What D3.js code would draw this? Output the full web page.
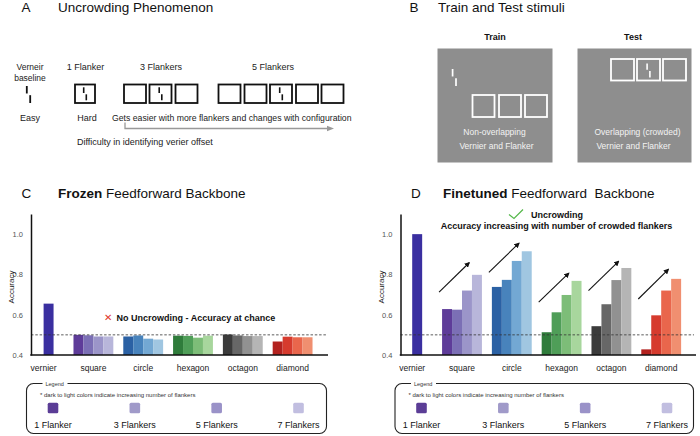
<!DOCTYPE html>
<html>
<head>
<meta charset="utf-8">
<script src="https://cdn.jsdelivr.net/npm/d3@7"></script>
<style>
  html, body { margin: 0; padding: 0; background: #fff; }
  svg { display: block; font-family: "Liberation Sans", Arial, Helvetica, sans-serif; }
</style>
</head>
<body>
<svg id="fig" width="700" height="436"></svg>
<script>
// ---------------- DATA ----------------
const categories = ["vernier", "square", "circle", "hexagon", "octagon", "diamond"];
const shapes = ["square", "circle", "hexagon", "octagon", "diamond"];
const flankerLabels = ["1 Flanker", "3 Flankers", "5 Flankers", "7 Flankers"];
const yTicks = [0.4, 0.6, 0.8, 1.0];
const chanceLevel = 0.5;

const frozenVernier = [0.655];
const frozenAcc = [
  [0.500, 0.498, 0.492, 0.492],   // square
  [0.492, 0.497, 0.481, 0.477],   // circle
  [0.496, 0.495, 0.486, 0.496],   // hexagon
  [0.502, 0.497, 0.494, 0.494],   // octagon
  [0.467, 0.491, 0.488, 0.488]    // diamond
];

const finetunedVernier = [1.0];
const finetunedAcc = [
  [0.628, 0.625, 0.720, 0.798],   // square
  [0.738, 0.773, 0.867, 0.915],   // circle
  [0.513, 0.612, 0.698, 0.768],   // hexagon
  [0.543, 0.652, 0.772, 0.832],   // octagon
  [0.428, 0.597, 0.720, 0.778]    // diamond
];

// arrows above each shape group in panel D (start / end accuracy)
const arrowStart = [0.712, 0.810, 0.663, 0.720, 0.678];
const arrowEnd   = [0.858, 0.955, 0.806, 0.865, 0.825];

const vernierColor = "#3a2fa0";
const shapeColors = [
  ["#5e3c99", "#7b6fb5", "#9b95c9", "#b8b6da"],
  ["#2b61a4", "#4883bc", "#73a8d3", "#a0c6e1"],
  ["#2f7c3b", "#4f9e58", "#7dbd78", "#a8d69d"],
  ["#3b3b3b", "#676767", "#919191", "#b5b5b5"],
  ["#b3221f", "#d63b2e", "#e9664c", "#f08f70"]
];
const legendColors = ["#5b3d96", "#a09ac9", "#9a92c8", "#c1bee0"];

// ---------------- SETUP ----------------
const svg = d3.select("#fig");
const FONT = '"Liberation Sans", Arial, Helvetica, sans-serif';

function text(g, x, y, str, opts = {}) {
  return g.append("text")
    .attr("x", x).attr("y", y)
    .attr("font-size", opts.size || 9)
    .attr("font-weight", opts.weight || "normal")
    .attr("fill", opts.fill || "#111")
    .attr("text-anchor", opts.anchor || "start")
    .text(str);
}

// ---------------- PANEL TITLES ----------------
text(svg, 21.5, 12, "A", { size: 13.5 });
text(svg, 58, 12, "Uncrowding Phenomenon", { size: 13.5 });
text(svg, 409.5, 12, "B", { size: 13.5 });
text(svg, 438, 12, "Train and Test stimuli", { size: 13.5 });
text(svg, 21.5, 198, "C", { size: 13.5 });
const tC = text(svg, 58, 198, "", { size: 13.5 });
tC.append("tspan").attr("font-weight", "bold").text("Frozen");
tC.append("tspan").text(" Feedforward Backbone");
text(svg, 411, 198, "D", { size: 13.5 });
const tD = text(svg, 443, 198, "", { size: 13.5 });
tD.append("tspan").attr("font-weight", "bold").text("Finetuned");
tD.append("tspan").attr("xml:space", "preserve").text(" Feedforward  Backbone");

// ---------------- PANEL A ----------------
function vernier(g, cx, cy, h, color, w) {
  const off = h * 0.1;
  g.append("line").attr("x1", cx - off).attr("x2", cx - off)
    .attr("y1", cy - h / 2).attr("y2", cy - h * 0.06)
    .attr("stroke", color).attr("stroke-width", w);
  g.append("line").attr("x1", cx + off).attr("x2", cx + off)
    .attr("y1", cy + h * 0.04).attr("y2", cy + h / 2)
    .attr("stroke", color).attr("stroke-width", w);
}
function box(g, x, y, w, h, color, sw) {
  g.append("rect").attr("x", x).attr("y", y).attr("width", w).attr("height", h)
    .attr("fill", "none").attr("stroke", color).attr("stroke-width", sw);
}
const gA = svg.append("g");
text(gA, 30, 70, "Verneir", { size: 8.5, anchor: "middle", fill: "#222" });
text(gA, 30, 80.5, "baseline", { size: 8.5, anchor: "middle", fill: "#222" });
vernier(gA, 28.5, 94.5, 17, "#111", 1.8);
text(gA, 30, 121, "Easy", { size: 9, anchor: "middle", fill: "#222" });

text(gA, 85.5, 70, "1 Flanker", { size: 9, anchor: "middle", fill: "#222" });
box(gA, 75, 84.5, 20, 18.5, "#111", 1.8);
vernier(gA, 85, 93.8, 13, "#111", 1.6);
text(gA, 87, 121, "Hard", { size: 9, anchor: "middle", fill: "#222" });

text(gA, 161, 70, "3 Flankers", { size: 9, anchor: "middle", fill: "#222" });
[124, 149.5, 175.5].forEach((x, i) => {
  box(gA, x, 84.5, 22, 18.5, "#111", 1.8);
  if (i === 1) vernier(gA, x + 11, 93.8, 13, "#111", 1.6);
});
text(gA, 273, 70, "5 Flankers", { size: 9, anchor: "middle", fill: "#222" });
[218.5, 244.5, 270, 296, 321.5].forEach((x, i) => {
  box(gA, x, 84.5, 22, 18.5, "#111", 1.8);
  if (i === 2) vernier(gA, x + 11, 93.8, 13, "#111", 1.6);
});
text(gA, 112, 121, "Gets easier with more flankers and changes with configuration", { size: 8.7, fill: "#222" });
gA.append("path").attr("d", "M125,122.5 V128.5 H330").attr("fill", "none")
  .attr("stroke", "#999").attr("stroke-width", 1.3);
gA.append("path").attr("d", "M334,128.5 L327,125.8 L327,131.2 Z").attr("fill", "#999");
text(gA, 77, 144.5, "Difficulty in identifying verier offset", { size: 9, fill: "#222" });

// ---------------- PANEL B ----------------
const gB = svg.append("g");
const boxGray = "#8e8e8e";
text(gB, 495, 40, "Train", { size: 9, weight: "bold", anchor: "middle" });
text(gB, 633, 40, "Test", { size: 9, weight: "bold", anchor: "middle" });
gB.append("rect").attr("x", 437.5).attr("y", 48.5).attr("width", 115).attr("height", 114).attr("fill", boxGray);
gB.append("rect").attr("x", 577.5).attr("y", 48.5).attr("width", 114).attr("height", 114).attr("fill", boxGray);
vernier(gB, 454.3, 77.5, 17, "#fff", 1.7);
[472.5, 499, 525].forEach(x => box(gB, x, 95, 22, 22, "#fff", 1.8));
text(gB, 494.5, 134.5, "Non-overlapping", { size: 8.5, anchor: "middle", fill: "#f3f3f3" });
text(gB, 496.5, 149, "Vernier and Flanker", { size: 8.5, anchor: "middle", fill: "#f3f3f3" });
[611, 637, 663].forEach((x, i) => {
  box(gB, x, 59, 23, 21.5, "#fff", 1.8);
  if (i === 1) vernier(gB, x + 11.5, 70.5, 14, "#fff", 1.6);
});
text(gB, 637.5, 134.5, "Overlapping (crowded)", { size: 8.5, anchor: "middle", fill: "#f3f3f3" });
text(gB, 633.5, 149, "Vernier and Flanker", { size: 8.5, anchor: "middle", fill: "#f3f3f3" });

// ---------------- BAR PANELS ----------------
svg.append("defs").append("marker")
  .attr("id", "arrowhead").attr("viewBox", "0 0 10 10")
  .attr("refX", 8).attr("refY", 5).attr("markerWidth", 5).attr("markerHeight", 5)
  .attr("orient", "auto")
  .append("path").attr("d", "M0,0 L10,5 L0,10 Z").attr("fill", "#111");

function barPanel(cfg) {
  const g = svg.append("g");
  const x = d3.scaleBand().domain(categories)
    .range([cfg.bandStart, cfg.bandEnd]).paddingInner(0.2).paddingOuter(0.1);
  const sub = d3.scaleBand().domain(d3.range(4)).range([0, x.bandwidth()]);
  const y = d3.scaleLinear().domain([0.4, 1.1]).range([355, 214]);

  // bars: vernier
  g.selectAll(".vbar").data(cfg.vernier).join("rect")
    .attr("x", x("vernier") + sub(2)).attr("width", sub.bandwidth())
    .attr("y", d => y(d)).attr("height", d => y(0.4) - y(d))
    .attr("fill", vernierColor);
  // bars: shapes
  shapes.forEach((s, si) => {
    g.selectAll(".b" + s).data(cfg.acc[si]).join("rect")
      .attr("x", (d, j) => x(s) + sub(j)).attr("width", sub.bandwidth())
      .attr("y", d => y(d)).attr("height", d => y(0.4) - y(d))
      .attr("fill", (d, j) => shapeColors[si][j]);
  });

  // chance line
  g.append("line").attr("x1", cfg.axisX).attr("x2", cfg.dashEnd)
    .attr("y1", y(chanceLevel)).attr("y2", y(chanceLevel))
    .attr("stroke", "#333").attr("stroke-width", 0.8).attr("stroke-dasharray", "2.5,1.8");

  // y axis
  const ya = g.append("g").attr("transform", `translate(${cfg.axisX},0)`)
    .call(d3.axisLeft(y).tickValues(yTicks).tickFormat(d3.format(".1f")).tickSize(0).tickPadding(8));
  ya.select(".domain").attr("stroke", "#111").attr("stroke-width", 1.5);
  ya.selectAll("text").attr("font-family", FONT).attr("font-size", 7.5).attr("fill", "#555");
  g.append("text").attr("transform", `translate(${cfg.axisX - 17},287) rotate(-90)`)
    .attr("text-anchor", "middle").attr("font-size", 8).attr("fill", "#222").text("Accuracy");

  // x axis
  g.append("line").attr("x1", cfg.axisX - 0.75).attr("x2", cfg.axisEnd)
    .attr("y1", y(0.4)).attr("y2", y(0.4)).attr("stroke", "#111").attr("stroke-width", 1.5);
  const xa = g.append("g").attr("transform", `translate(0,${y(0.4)})`)
    .call(d3.axisBottom(x).tickSize(0).tickPadding(10));
  xa.select(".domain").remove();
  xa.selectAll("text").attr("font-family", FONT).attr("font-size", 8.5).attr("fill", "#222");

  // legend
  const lg = g.append("g");
  lg.append("rect").attr("x", cfg.legX).attr("y", 383.5).attr("width", cfg.legW).attr("height", 50)
    .attr("rx", 7).attr("fill", "none").attr("stroke", "#222").attr("stroke-width", 1.1);
  lg.append("rect").attr("x", cfg.legX + 16).attr("y", 380).attr("width", 25).attr("height", 7).attr("fill", "#fff");
  lg.append("text").attr("x", cfg.legX + 19).attr("y", 385.5).attr("font-size", 5.5).attr("fill", "#333").text("Legend");
  lg.append("text").attr("x", cfg.legX + 13.5).attr("y", 396.8).attr("font-size", 6).attr("fill", "#333")
    .text("* dark to light colors indicate increasing number of flankers");
  const lx = d3.scalePoint().domain(flankerLabels).range([cfg.legX + 26.5, cfg.legX + 272]);
  lg.selectAll(".sw").data(flankerLabels).join("rect")
    .attr("x", d => lx(d) - 5.3).attr("y", 402.7).attr("width", 10.6).attr("height", 10.6)
    .attr("rx", 1.5).attr("fill", (d, i) => legendColors[i]);
  lg.selectAll(".lt").data(flankerLabels).join("text")
    .attr("x", d => lx(d)).attr("y", 427.5).attr("text-anchor", "middle")
    .attr("font-size", 9).attr("fill", "#111").text(d => d);
  return { g, x, y, sub };
}

// Panel C
const pc = barPanel({ vernier: frozenVernier, acc: frozenAcc, bandStart: 18.7, bandEnd: 317.5,
  axisX: 31, axisEnd: 328, dashEnd: 326, legX: 26.5, legW: 300 });
pc.g.append("text").attr("x", 104).attr("y", 320.5).attr("font-size", 10).attr("fill", "#e0392b").text("✕");
pc.g.append("text").attr("x", 116.5).attr("y", 320.5).attr("font-size", 9).attr("font-weight", "bold")
  .attr("fill", "#111").text("No Uncrowding - Accuracy at chance");

// Panel D
const pd = barPanel({ vernier: finetunedVernier, acc: finetunedAcc, bandStart: 387.3, bandEnd: 686.1,
  axisX: 400.5, axisEnd: 696, dashEnd: 694, legX: 395, legW: 298.5 });
pd.g.append("path").attr("d", "M509,214.5 L514,218.5 L523,209.5").attr("fill", "none")
  .attr("stroke", "#55b84a").attr("stroke-width", 1.2);
pd.g.append("text").attr("x", 531).attr("y", 217.5).attr("font-size", 9).attr("font-weight", "bold")
  .attr("fill", "#111").text("Uncrowding");
pd.g.append("text").attr("x", 556.5).attr("y", 228.5).attr("font-size", 9).attr("font-weight", "bold")
  .attr("text-anchor", "middle").attr("fill", "#111").text("Accuracy increasing with number of crowded flankers");
pd.g.selectAll(".arr").data(shapes).join("line")
  .attr("x1", d => pd.x(d) - 3).attr("x2", d => pd.x(d) + pd.x.bandwidth() * 0.68)
  .attr("y1", (d, i) => pd.y(arrowStart[i])).attr("y2", (d, i) => pd.y(arrowEnd[i]))
  .attr("stroke", "#111").attr("stroke-width", 1.1).attr("marker-end", "url(#arrowhead)");
</script>
</body>
</html>
